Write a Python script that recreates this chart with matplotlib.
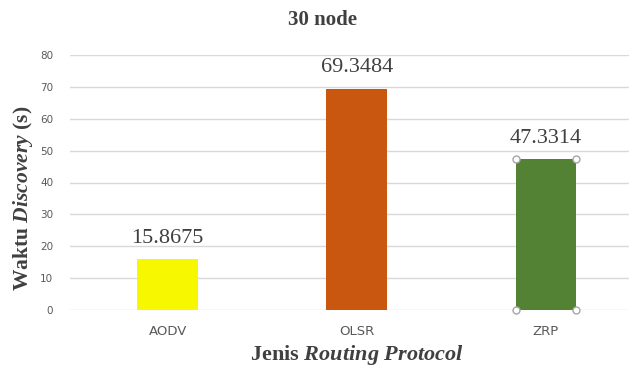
import matplotlib
matplotlib.use("Agg")
import matplotlib.pyplot as plt

# Discovery time per routing protocol, 30-node scenario
protocols = ["AODV", "OLSR", "ZRP"]
discovery_time = [15.8675, 69.3484, 47.3314]
value_labels = ["15.8675", "69.3484", "47.3314"]
bar_colors = ["#F7F700", "#C9570F", "#548235"]
y_ticks = [0, 10, 20, 30, 40, 50, 60, 70, 80]

plt.rcParams["mathtext.fontset"] = "custom"
plt.rcParams["mathtext.it"] = "Liberation Serif:italic:bold"
plt.rcParams["mathtext.rm"] = "Liberation Serif:bold"

fig = plt.figure(figsize=(6.29, 3.69), dpi=100)
ax = fig.add_axes([70 / 629, 1 - 310 / 369, 559 / 629, 255 / 369])

x = list(range(len(protocols)))
bars = ax.bar(x, discovery_time, width=0.32, color=bar_colors, zorder=3)

for xi, v, lab in zip(x, discovery_time, value_labels):
    ax.text(xi, v + 6.6, lab, ha="center", va="center", fontsize=16,
            family="Liberation Serif", color="#404040")

# selection handles on the last bar's corners
zb = bars[-1]
x0, w, h = zb.get_x(), zb.get_width(), zb.get_height()
ax.plot([x0, x0 + w, x0, x0 + w], [0, 0, h, h], "o", ms=5, mfc="white",
        mec="#A6A6A6", mew=1, zorder=4, clip_on=False)

ax.set_ylim(0, 80)
ax.set_xlim(-0.516, 2.44)
ax.set_yticks(y_ticks)
ax.set_xticks(x)
ax.set_xticklabels(protocols)
ax.tick_params(axis="both", length=0, labelcolor="#595959")
ax.tick_params(axis="x", pad=11, labelsize=9.5)
ax.tick_params(axis="y", pad=12, labelsize=7.5)
for lbl in ax.get_xticklabels() + ax.get_yticklabels():
    lbl.set_family("DejaVu Sans")

ax.yaxis.grid(True, color="#D9D9D9", lw=1, zorder=0)
for s in ax.spines.values():
    s.set_visible(False)

fig.text(323 / 629, 1 - 20 / 369, "30 node", ha="center",
         va="center", fontsize=15, family="Liberation Serif",
         fontweight="bold", color="#404040")

fig.text(23 / 629, 1 - 198 / 369, r"$\mathrm{Waktu}\ \mathit{Discovery}\ \mathrm{(s)}$",
         rotation=90, ha="center", va="center", fontsize=15.5, color="#404040")
fig.text(357 / 629, 1 - 355 / 369, r"$\mathrm{Jenis}\ \mathit{Routing\ Protocol}$",
         ha="center", va="center", fontsize=16, color="#404040")

fig.savefig("out.png", dpi=100)
